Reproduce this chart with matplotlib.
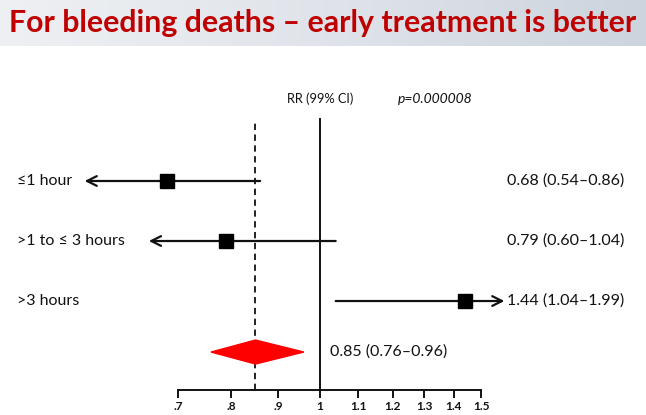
import numpy as np
import matplotlib
matplotlib.use("Agg")
import matplotlib.pyplot as plt
from matplotlib.patches import Polygon
from matplotlib.colors import LinearSegmentedColormap
from matplotlib.ticker import FixedLocator, FixedFormatter, NullLocator

plt.rcParams["font.family"] = ["Lato", "DejaVu Sans"]

# data
groups = ["\u22641 hour", ">1 to \u2264 3 hours", ">3 hours"]
rr = [0.68, 0.79, 1.44]
ci_lo = [0.54, 0.60, 1.04]
ci_hi = [0.86, 1.04, 1.99]
# where the truncated CI arrows end on the drawn scale
arrow_tip = [0.553, 0.65, 1.59]

pooled_rr = 0.85
pooled_lo = 0.76
pooled_hi = 0.96

ticks = [0.7, 0.8, 0.9, 1.0, 1.1, 1.2, 1.3, 1.4, 1.5]
tick_labels = [".7", ".8", ".9", "1", "1.1", "1.2", "1.3", "1.4", "1.5"]

title = "For bleeding deaths \u2013 early treatment is better"
p_text = "p=0.000008"

fig = plt.figure(figsize=(6.46, 4.15), dpi=100)

# title band with a soft gradient
bg = fig.add_axes([0, 0.89, 1, 0.11])
grad = np.linspace(0, 1, 256)[None, :]
cmap = LinearSegmentedColormap.from_list("band", ["#eef0f3", "#e0e4ea", "#cdd4dd"])
bg.imshow(grad, aspect="auto", cmap=cmap, extent=[0, 1, 0, 1])
bg.axis("off")
fig.text(0.5, 0.945, title, ha="center", va="center", fontsize=21.8,
         fontweight="bold", color="#c00000")

ax = fig.add_axes([0, 0.0602, 1, 0.6555])
ax.set_xscale("log")
ax.set_xlim(0.447, 2.27)
ax.set_ylim(-0.483, 4.05)

n = len(groups)
ypos = [n - i for i in range(n)]
ydiam = 0.15
txt = dict(fontsize=11.5, color="#111111", va="center", ha="left")

ax.axvline(1.0, color="#111111", lw=1.4)
ax.vlines(pooled_rr, -0.483, 3.98, colors="#111111", lw=1.3, linestyles=(0, (3.5, 2.5)))

for i in range(n):
    y = ypos[i]
    lo, hi = ci_lo[i], ci_hi[i]
    if lo < ticks[0]:
        ax.annotate("", xy=(arrow_tip[i], y), xytext=(hi, y),
                    arrowprops=dict(arrowstyle="->,head_length=0.7,head_width=0.35",
                                    color="#111111", lw=1.6, shrinkA=0, shrinkB=0))
    elif hi > ticks[-1]:
        ax.annotate("", xy=(arrow_tip[i], y), xytext=(lo, y),
                    arrowprops=dict(arrowstyle="->,head_length=0.7,head_width=0.35",
                                    color="#111111", lw=1.6, shrinkA=0, shrinkB=0))
    else:
        ax.plot([lo, hi], [y, y], color="#111111", lw=1.6)
    ax.plot(rr[i], y, marker="s", ms=10, color="black", zorder=5)
    ax.text(0.026, y, groups[i], transform=ax.get_yaxis_transform(), **txt)
    ax.text(0.785, y, f"{rr[i]:.2f} ({lo:.2f}\u2013{hi:.2f})",
            transform=ax.get_yaxis_transform(), **txt)

dh = 0.2
diamond = Polygon([(pooled_lo, ydiam), (pooled_rr, ydiam + dh),
                   (pooled_hi, ydiam), (pooled_rr, ydiam - dh)],
                  closed=True, facecolor="#ff0000", edgecolor="#ff0000", zorder=4)
ax.add_patch(diamond)
ax.text(0.511, ydiam, f"{pooled_rr:.2f} ({pooled_lo:.2f}\u2013{pooled_hi:.2f})",
        transform=ax.get_yaxis_transform(), **txt)

ax.text(1.0, 4.37, "RR (99% CI)", ha="center", va="center", fontsize=9.2, color="#111111")
ax.text(0.616, 4.37, p_text, transform=ax.get_yaxis_transform(), ha="left",
        va="center", fontsize=10, style="italic", color="#111111")

for s in ["top", "right", "left"]:
    ax.spines[s].set_visible(False)
ax.spines["bottom"].set_bounds(ticks[0], ticks[-1])
ax.spines["bottom"].set_linewidth(1.4)
ax.spines["bottom"].set_color("#111111")
ax.xaxis.set_major_locator(FixedLocator(ticks))
ax.xaxis.set_major_formatter(FixedFormatter(tick_labels))
ax.xaxis.set_minor_locator(NullLocator())
ax.tick_params(axis="x", length=6, width=1.4, color="#111111", labelsize=8.5,
               pad=2, labelcolor="#111111")
for lab in ax.get_xticklabels():
    lab.set_fontweight("bold")
ax.set_yticks([])
ax.patch.set_alpha(0)

fig.savefig("out.png", dpi=100)
